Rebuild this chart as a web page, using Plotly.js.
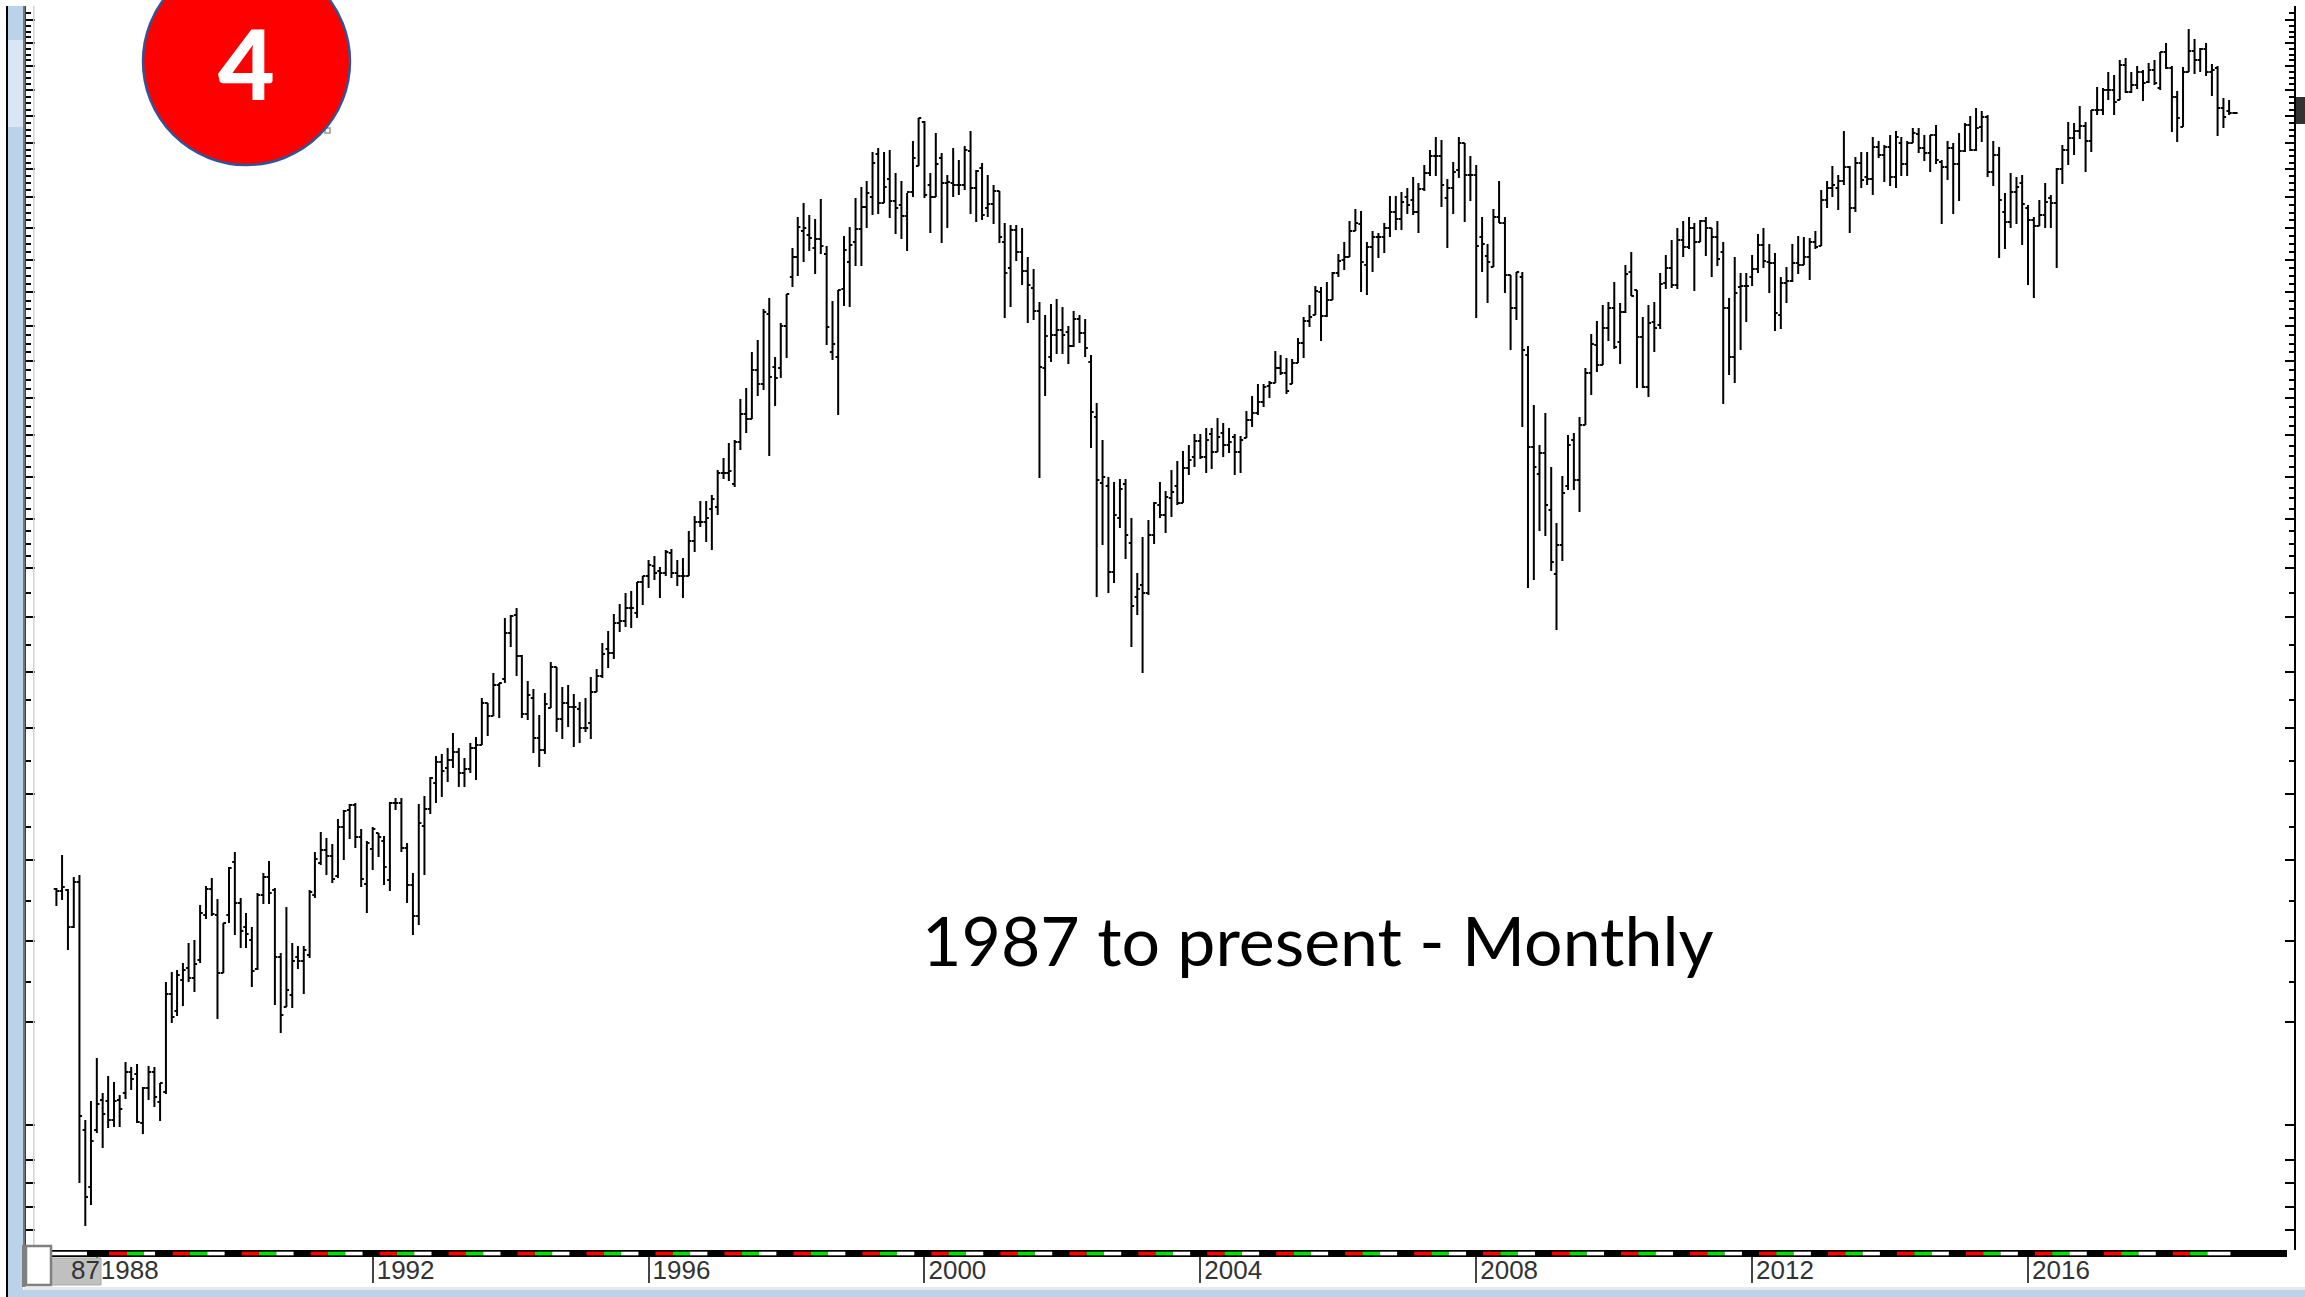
<!DOCTYPE html>
<html>
<head>
<meta charset="utf-8">
<script src="https://cdn.plot.ly/plotly-3.0.1.min.js"></script>
<style>html,body{margin:0;padding:0;background:#fff;overflow:hidden}#chart{width:2305px;height:1297px}</style>
</head>
<body>
<div id="chart"></div>
<script>
// Monthly bars, June 1987 onward. The reference's price scale has no labels, so values are index levels read off the picture.
const firstYear = 1987, firstMonth = 5;
const high = [
362,395,361,373,375,130,149,192,157,174,
168,155,188,183,186,163,184,183,167,268,
278,280,287,307,310,345,364,372,351,327,
383,398,352,337,323,357,377,389,362,297,
343,307,304,304,360,398,418,412,406,431,
440,446,447,421,409,423,417,414,448,452,
452,407,377,446,454,473,494,496,502,517,
502,492,507,513,552,547,577,567,632,635,
642,595,569,561,535,557,588,583,563,565,
556,548,552,573,581,607,619,636,646,657,
659,668,674,690,694,683,700,701,690,692,
719,734,749,749,755,780,792,807,810,851,
862,898,910,941,952,893,927,956,1002,1033,
1047,1035,1031,1051,1004,949,960,1014,1023,1052,
1063,1069,1098,1102,1098,1100,1077,1069,1057,1109,
1132,1129,1077,1117,1097,1075,1102,1090,1104,1119,
1080,1087,1075,1065,1059,1027,1025,1025,1022,993,
981,948,935,946,951,943,924,939,935,931,
895,847,810,773,768,771,771,732,677,713,
730,748,768,759,780,789,799,805,816,816,
822,822,832,827,822,816,814,839,854,866,
866,869,899,895,892,891,912,933,945,964,
963,968,978,996,1008,1029,1041,1039,1008,1019,
1017,1027,1054,1054,1058,1062,1073,1067,1085,1100,
1113,1110,1071,1088,1113,1107,1094,1085,1033,1006,
1041,1069,1033,975,978,978,904,845,805,837,
783,727,774,815,817,833,882,916,929,945,
948,968,947,985,998,960,933,945,948,977,
995,1010,1022,1029,1033,1027,1030,1033,1022,1029,
1008,952,993,977,977,995,1016,1022,1006,997,
973,983,1006,1014,1013,1012,1019,1060,1069,1084,
1075,1119,1084,1093,1098,1098,1113,1109,1105,1115,
1119,1113,1109,1122,1122,1115,1115,1125,1090,1109,
1107,1117,1127,1134,1142,1139,1135,1109,1103,1057,
1077,1073,1075,1045,1033,1050,1067,1055,1082,1105,
1128,1127,1144,1128,1140,1163,1162,1178,1175,1190,
1192,1178,1184,1180,1187,1190,1198,1207,1184,1159,
1183,1221,1211,1202,1207,1186,1184,1152,1150,1138];
const low = [
344,350,300,322,67,24,45,117,102,122,
123,123,151,160,127,116,150,143,129,156,
227,234,244,268,258,287,331,334,231,277,
327,315,302,302,263,280,346,346,245,217,
243,242,281,256,292,352,385,375,367,372,
390,411,402,363,337,380,393,365,359,440,
398,347,315,325,375,436,447,453,468,482,
463,463,477,470,505,514,534,532,567,603,
574,532,530,497,483,496,542,518,511,523,
503,507,518,511,558,572,582,591,618,623,
622,632,645,662,670,652,674,672,664,652,
674,698,723,708,700,735,771,769,763,800,
817,831,854,860,794,844,872,892,963,974,
988,999,976,996,905,890,835,944,943,984,
984,1022,1035,1036,1047,1032,1016,1011,999,1053,
1084,1052,1017,1053,1007,1022,1053,1055,1060,1036,
1028,1030,1033,1026,1007,932,943,989,965,927,
930,772,854,888,896,896,886,903,907,893,
802,653,705,657,667,722,691,603,635,577,
655,706,732,717,733,745,747,775,783,791,
777,781,798,793,797,775,777,812,823,835,
843,852,867,875,856,866,887,892,923,935,
909,933,950,973,980,993,1019,958,955,978,
992,997,1013,1020,1020,1036,1035,1017,1059,1074,
1074,1043,1002,1036,1072,1028,1049,932,978,947,
983,1027,957,900,930,823,662,670,719,714,
679,620,689,760,760,738,825,855,878,885,
909,901,886,937,954,862,862,853,898,921,
961,962,961,993,1001,959,1008,994,973,984,
846,875,867,900,928,964,977,982,957,919,
921,947,968,976,985,970,1001,1004,1042,1053,
1040,1065,1017,1038,1062,1065,1055,1092,1068,1064,
1062,1074,1074,1107,1097,1089,1078,1086,1026,1070,
1036,1049,1098,1099,1099,1108,1073,1064,992,1001,
1022,1026,1005,965,952,1024,1022,1022,982,1066,
1085,1095,1111,1078,1098,1135,1135,1150,1135,1150,
1157,1157,1161,1149,1167,1165,1160,1181,1118,1108,
1123,1178,1176,1178,1174,1154,1114,1122,1135,1136];
const open = [
361,359,360,323,368,120,63,120,150,149,
130,150,157,178,176,127,162,178,148,158,
256,239,270,282,272,290,335,361,335,277,
335,388,347,323,310,281,355,373,360,293,
243,255,293,289,295,355,387,400,394,374,
423,440,445,413,366,401,417,409,370,447,
447,402,365,334,424,441,467,488,482,490,
498,477,481,502,505,547,534,565,571,617,
635,594,536,552,512,500,542,583,531,547,
543,541,522,527,558,574,601,597,627,629,
642,637,668,674,684,679,677,697,677,674,
674,709,728,728,741,743,777,777,766,808,
836,831,880,866,936,883,882,924,973,993,
1019,1015,1002,1011,996,898,893,961,988,1008,
1021,1043,1053,1096,1047,1071,1049,1045,1034,1058,
1084,1128,1065,1053,1092,1067,1067,1065,1065,1099,
1062,1082,1042,1046,1059,1008,982,1020,998,979,
962,939,882,893,915,920,918,904,931,917,
888,833,767,764,678,732,766,707,653,665,
657,715,745,735,752,764,747,782,793,809,
793,816,798,817,805,813,798,812,830,837,
848,864,867,882,877,866,887,907,929,935,
958,934,950,977,990,993,1019,1026,985,1003,
1013,1013,1022,1038,1031,1053,1050,1038,1061,1077,
1094,1094,1052,1062,1080,1107,1075,1075,1013,994,
983,1033,1027,975,942,973,895,803,776,797,
740,676,705,764,810,770,825,877,905,885,
922,942,908,938,978,960,913,863,928,925,
967,982,965,1010,1003,1022,1008,1029,1022,1013,
998,942,893,963,964,973,981,1005,988,987,
935,967,969,987,985,993,1008,1004,1050,1062,
1062,1069,1083,1042,1087,1073,1071,1103,1095,1103,
1073,1107,1086,1107,1116,1102,1097,1115,1088,1083,
1102,1086,1099,1125,1100,1123,1133,1078,1095,1038,
1028,1058,1067,1042,1030,1024,1035,1052,1047,1081,
1100,1112,1119,1124,1109,1140,1140,1160,1160,1150,
1185,1158,1165,1178,1168,1180,1162,1198,1182,1153,
1123,1178,1199,1190,1201,1178,1182,1142,1139,1137];
const close = [
359,363,323,368,134,53,109,146,136,130,
149,141,178,171,128,162,178,153,167,256,
233,275,280,272,286,337,361,336,277,327,
382,347,319,316,279,355,373,357,293,235,
260,289,289,300,358,391,400,394,371,423,
439,445,413,371,407,421,413,383,447,447,
402,365,334,427,441,472,488,479,490,498,
477,481,502,505,547,534,565,567,617,634,
594,536,555,512,500,546,583,531,547,543,
543,522,522,558,574,596,597,627,629,642,
642,668,674,685,677,677,698,677,674,674,
709,728,728,732,751,777,777,779,808,836,
831,880,866,938,873,872,924,956,993,1023,
1022,1012,1011,1004,923,906,960,1000,1005,1021,
1043,1057,1087,1047,1063,1049,1042,1034,1058,1092,
1132,1055,1053,1086,1067,1068,1065,1065,1100,1062,
1079,1035,1046,1059,1013,977,1020,998,979,965,
939,883,914,915,920,915,904,931,917,902,
838,770,773,678,735,761,715,644,661,657,
715,747,735,753,758,747,782,790,809,793,
810,798,813,805,808,798,810,830,837,848,
863,867,882,877,859,887,907,929,933,959,
934,950,977,989,993,1019,1027,988,1003,1013,
1013,1022,1038,1031,1048,1045,1038,1061,1077,1094,
1094,1065,1062,1078,1107,1075,1075,1004,1006,988,
1033,1027,975,942,978,900,803,783,797,745,
688,705,757,805,770,825,877,906,885,922,
942,903,938,976,954,913,863,927,922,966,
982,965,1010,1003,1022,1008,1029,1022,1013,991,
942,893,957,964,964,981,1005,989,987,937,
967,969,987,985,993,1008,1003,1050,1062,1065,
1069,1083,1042,1087,1070,1071,1103,1095,1103,1073,
1113,1086,1107,1117,1102,1097,1115,1090,1083,1102,
1086,1099,1125,1100,1122,1133,1078,1095,1050,1028,
1058,1063,1046,1030,1024,1035,1048,1047,1081,1100,
1112,1119,1124,1109,1140,1140,1160,1160,1148,1185,
1158,1165,1178,1167,1180,1167,1198,1182,1153,1132,
1178,1199,1190,1201,1178,1180,1142,1133,1137,1137];

const yearLabels = ["1988","1992","1996","2000","2004","2008","2012","2016"];
const scaleTicks = [1230,1207,1183,1160,1125,1022,941,860,794,728,672,617,568,519,477,435,398,361,326,292,260,228,197,169,143,116,90,66,43,20];
const chartTitle = "1987 to present - Monthly";
const badgeLabel = "4";
const sliderLabel = "87";

const W = 2305, H = 1297, L = 26, R = 2294, T = 6, B = 1250;
const dates = open.map((_, i) => {
  const d = new Date(Date.UTC(firstYear, firstMonth + i, 1));
  return d.toISOString().slice(0, 10);
});
const tickDates = yearLabels.map(y => y + "-01-01");

// horizontal scale: 1992 tick at px 372.7, 2016 tick at px 2028
const msPerPx = (Date.UTC(2016,0,1) - Date.UTC(1992,0,1)) / (2028 - 372.7);
const pxToDate = px => new Date(Date.UTC(1992,0,1) + (px - 372.7) * msPerPx).toISOString().slice(0, 19).replace("T", " ");

// vertical scale values
const levels = scaleTicks.map(t => 1250 - t).sort((a, b) => a - b);
const minorVals = [];
for (let k = 0; k < levels.length - 1; k++) {
  const a = levels[k], b = levels[k + 1];
  const y = 1250 - b;
  const n = y < 560 ? 4 : (y < 1000 ? 2 : 1);
  for (let j = 1; j < n; j++) minorVals.push(a + (b - a) * j / n);
}
const topEnd = 1244;
for (let v = 1230 + 6.7; v < topEnd; v += 6.7) minorVals.push(v);

const fx = x => (x - L) / (R - L);
const fy = y => (B - y) / (B - T);
const rect = (x0, y0, x1, y1, fill, line, lw) => ({
  type: "rect", xref: "paper", yref: "paper", layer: "above",
  x0: fx(x0), x1: fx(x1), y0: fy(y0), y1: fy(y1),
  fillcolor: fill, line: { color: line || fill, width: lw === undefined ? 0 : lw }
});

const shapes = [
  rect(6, T, 8, H, "#000000"),
  rect(8, T, 23, 40, "#bcd2ea"),
  rect(8, 40, 23, 127, "#dbe6f4"),
  rect(8, 127, 23, H, "#bcd2ea"),
  rect(23, T, 25.5, B, "#777777"),
  rect(33, T, 34.5, B, "#d2d2d2"),
  rect(8, 1290, W, H, "#bcd2ea"),
  rect(24, 1287, W, 1290, "#e8e8e8"),
  rect(2296, 97, W, 124, "#333333"),
  rect(L, 1250, 2287, 1257, "#000000")
];
// red, green, white blocks along the time strip, one set per year
for (let k = 0; k <= 29; k++) {
  const s = 172.7 + 68.97 * k;
  const last = k === 29 ? 23 : 17.3;
  shapes.push(rect(s, 1251.7, s + 17.3, 1255.3, "#ff0000"));
  shapes.push(rect(s + 17.3, 1251.7, s + 34.6, 1255.3, "#00e000"));
  shapes.push(rect(s + 34.6, 1251.7, s + 34.6 + last, 1255.3, "#ffffff"));
}
shapes.push(rect(109, 1251.7, 127, 1255.3, "#ff0000"));
shapes.push(rect(127, 1251.7, 144, 1255.3, "#00e000"));
shapes.push(rect(144, 1251.7, 155, 1255.3, "#ffffff"));
shapes.push(rect(52, 1251.7, 87, 1255.3, "#ffffff"));
shapes.push(rect(51, 1258, 101, 1285, "#c0c0c0", "#a8a8a8", 1));
shapes.push(rect(22, 1245, 25.5, 1287, "#808080"));
shapes.push(rect(26, 1246, 51, 1285, "#ffffff", "#808080", 2.5));
shapes.push(rect(325, 128, 330, 133, "#ffffff", "#999999", 1.5));
shapes.push({
  type: "circle", xref: "paper", yref: "paper", layer: "above",
  x0: fx(143), x1: fx(350), y0: fy(165), y1: fy(-42),
  fillcolor: "#ff0000", line: { color: "#2f5597", width: 2.5 }
});

const annotations = [
  { xref: "paper", yref: "paper", x: fx(1318), y: fy(940), xanchor: "center", yanchor: "middle", showarrow: false,
    text: chartTitle, font: { family: "Lato, 'Open Sans', sans-serif", size: 68, color: "#000000" } },
  { xref: "paper", yref: "paper", x: fx(246), y: fy(62), xanchor: "center", yanchor: "middle", showarrow: false,
    text: badgeLabel, font: { family: "Lato, sans-serif", size: 98, color: "#ffffff", weight: 900 } },
  { xref: "paper", yref: "paper", x: fx(85), y: fy(1270), xanchor: "center", yanchor: "middle", showarrow: false,
    text: sliderLabel, font: { family: "Liberation Sans, Arial, sans-serif", size: 26, color: "#333333" } }
];

const trace = {
  type: "ohlc", x: dates, open: open, high: high, low: low, close: close,
  tickwidth: 0.5, hoverinfo: "skip",
  increasing: { line: { color: "#000000", width: 2 } },
  decreasing: { line: { color: "#000000", width: 2 } }
};

const layout = {
  width: W, height: H, showlegend: false,
  paper_bgcolor: "#ffffff", plot_bgcolor: "#ffffff",
  margin: { l: L, r: W - R, t: T, b: H - B, pad: 0 },
  xaxis: {
    type: "date", range: [pxToDate(L), pxToDate(R)],
    rangeslider: { visible: false }, showgrid: false, zeroline: false,
    tickmode: "array", tickvals: tickDates, ticktext: yearLabels,
    ticks: "outside", ticklen: 32, tickwidth: 2, tickcolor: "#444444",
    ticklabelposition: "outside right", ticklabelstandoff: -3, ticklabelshift: 3,
    tickfont: { family: "Liberation Sans, Arial, sans-serif", size: 26, color: "#333333" },
    showline: false, tickangle: 0
  },
  yaxis: {
    type: "linear", range: [0, 1244], showgrid: false, zeroline: false, showticklabels: false,
    tickmode: "array", tickvals: levels,
    ticks: "inside", ticklen: 9, tickwidth: 2, tickcolor: "#000000",
    showline: true, linecolor: "#000000", linewidth: 2, mirror: "ticks",
    minor: { tickmode: "array", tickvals: minorVals, ticks: "inside", ticklen: 5, tickwidth: 2, tickcolor: "#000000", showgrid: false }
  },
  shapes: shapes, annotations: annotations
};

Plotly.newPlot("chart", [trace], layout, { displayModeBar: false, staticPlot: true });
</script>
</body>
</html>
